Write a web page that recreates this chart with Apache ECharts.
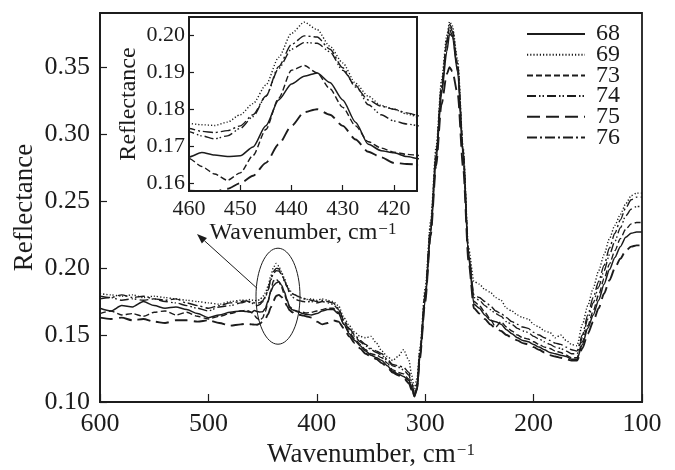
<!DOCTYPE html>
<html><head><meta charset="utf-8">
<script src="https://cdn.jsdelivr.net/npm/echarts@6/dist/echarts.min.js"></script>
<style>html,body{margin:0;padding:0;background:#fff}#c{width:675px;height:470px}</style>
</head><body><div id="c"></div>
<script>
// Wavenumber grid (cm^-1), shared by all series
const wavenumber = [
  600,590,580,570,560,550,540,530,520,510,500,490,480,470,
  465,462.5,460,457.5,455,452.5,450,447.5,445,442.5,440,437.5,435,432.5,430,427.5,425,422.5,420,417.5,415,412.5,410,
  405,400,395,390,385,380,375,370,365,360,355,350,345,340,335,330,325,320,315,312.5,310,307.5,
  305,300,295,290,285,280,277.5,
  275,270,265,260,255,250,245,240,235,230,225,220,215,210,205,200,195,190,185,180,175,170,165,160,155,150,145,140,135,130,125,120,115,110,105,100
];
const r68 = [
  .170,.168,.172,.171,.175,.172,.170,.171,.169,.166,.163,.165,.167,.168,
  .1675,.1672,.1671,.1683,.1676,.1672,.1674,.1698,.1755,.1825,.1868,.1889,.1898,.1872,.1825,.1765,.1705,.1688,.1682,.1672,.1666,.166,.1655,
  .165,.166,.168,.169,.169,.166,.158,.151,.146,.142,.138,.135,.133,.131,.127,.123,.121,.119,.116,.110,.104,.109,
  .133,.176,.226,.280,.330,.362,.375,
  .373,.346,.284,.208,.173,.170,.165,.161,.160,.158,.154,.151,.148,.146,.145,.143,.141,.139,.137,.136,.135,.134,.132,.132,.143,.155,.165,.176,.188,.199,.208,.216,.223,.226,.227,.227
];
const r69 = [
  .181,.180,.179,.180,.178,.179,.178,.177,.176,.175,.174,.173,.175,.176,
  .176,.1765,.1761,.1758,.1756,.1765,.1785,.1815,.1865,.194,.2005,.2035,.2015,.197,.1925,.187,.1835,.181,.180,.1787,.1778,.177,.1765,
  .177,.176,.177,.176,.175,.172,.163,.157,.152,.149,.148,.149,.144,.138,.134,.131,.134,.139,.131,.120,.110,.118,
  .140,.185,.235,.290,.340,.374,.384,
  .381,.355,.290,.215,.190,.188,.184,.182,.178,.176,.170,.168,.165,.163,.162,.158,.156,.153,.152,.148,.150,.146,.143,.142,.158,.172,.185,.198,.210,.222,.232,.240,.248,.254,.256,.256
];
const r73 = [
  .166,.168,.165,.166,.164,.167,.168,.165,.167,.164,.162,.164,.166,.168,
  .1685,.1678,.1667,.1645,.1625,.1608,.1628,.1675,.1745,.183,.1905,.1918,.1898,.1855,.1805,.1755,.1712,.1695,.1684,.1678,.1675,.167,.1665,
  .167,.168,.169,.170,.170,.167,.158,.152,.147,.143,.139,.136,.135,.133,.129,.124,.122,.121,.117,.111,.104,.110,
  .134,.178,.228,.282,.332,.368,.382,
  .379,.352,.288,.210,.175,.172,.167,.162,.156,.160,.156,.153,.150,.148,.147,.145,.143,.141,.140,.138,.137,.135,.133,.133,.145,.157,.168,.180,.192,.203,.213,.222,.229,.233,.234,.234
];
const r74 = [
  .177,.178,.176,.177,.176,.177,.175,.174,.172,.170,.168,.171,.172,.174,
  .175,.1745,.1739,.1728,.172,.1728,.1748,.178,.1835,.191,.1962,.198,.1978,.1955,.1905,.1865,.1812,.1785,.1768,.176,.1755,.175,.1748,
  .175,.174,.175,.174,.173,.169,.160,.154,.149,.145,.142,.139,.137,.135,.131,.127,.126,.124,.120,.113,.105,.112,
  .136,.180,.230,.284,.334,.370,.381,
  .377,.350,.287,.212,.178,.176,.172,.169,.166,.164,.160,.158,.155,.153,.152,.149,.147,.145,.143,.141,.140,.138,.136,.136,.148,.162,.174,.186,.198,.210,.220,.230,.239,.244,.246,.246
];
const r75 = [
  .163,.162,.163,.161,.162,.160,.159,.161,.161,.160,.161,.159,.157,.158,
  .1585,.1582,.158,.1578,.1577,.1585,.160,.162,.1655,.1705,.1755,.1792,.180,.1785,.1755,.1718,.1685,.167,.1655,.1652,.165,.1645,.164,
  .163,.160,.158,.159,.161,.160,.155,.149,.144,.140,.136,.134,.132,.129,.126,.122,.120,.118,.114,.109,.105,.110,
  .132,.175,.224,.276,.322,.345,.350,
  .347,.330,.275,.205,.170,.166,.162,.158,.155,.153,.150,.148,.146,.144,.143,.141,.139,.137,.135,.134,.133,.132,.131,.131,.140,.151,.160,.170,.181,.191,.200,.207,.213,.216,.217,.217
];
const r76 = [
  .179,.178,.180,.178,.179,.177,.176,.177,.174,.172,.170,.172,.174,.175,
  .1755,.175,.1748,.174,.1737,.1742,.1755,.1785,.1835,.1915,.1975,.1998,.1995,.1962,.1912,.186,.1825,.1808,.180,.179,.1782,.1775,.177,
  .176,.175,.176,.175,.174,.170,.161,.155,.150,.146,.143,.140,.138,.136,.132,.128,.127,.126,.122,.115,.106,.114,
  .138,.182,.232,.286,.336,.369,.378,
  .374,.348,.285,.210,.180,.178,.175,.172,.168,.166,.163,.160,.158,.156,.155,.152,.150,.148,.146,.144,.143,.141,.139,.138,.150,.165,.178,.190,.202,.215,.226,.236,.245,.251,.253,.253
];
const seriesNames = ['68','69','73','74','75','76'];
const mainYTicks = [0.10,0.15,0.20,0.25,0.30,0.35];
const insetXTicks = [460,450,440,430,420];
const insetYTicks = [0.16,0.17,0.18,0.19,0.20];

const FONT = 'Liberation Serif';
const INK = '#1c1c1c';
const seriesData = [r68, r69, r73, r74, r75, r76];
const dashStyles = ['solid', [1.2,2], [6,3], [9,3,1.5,2,1.5,3], [13,6], [10,3,2,3]];
const widths = [1.5, 1.4, 1.4, 1.4, 1.9, 1.4];

function pairs(arr){ return wavenumber.map((w,i)=>[w,arr[i]]); }

const series = [];
seriesNames.forEach((n,i)=>{
  const base = {
    name: n, type: 'line', symbol: 'none', smooth: 0.25, smoothMonotone: 'x',
    data: pairs(seriesData[i]),
    lineStyle: {color: INK, width: widths[i], type: dashStyles[i]},
    itemStyle: {color: INK},
    emphasis: {disabled: true}, silent: true
  };
  series.push(Object.assign({}, base, {xAxisIndex: 0, yAxisIndex: 0}));
  series.push(Object.assign({}, base, {xAxisIndex: 1, yAxisIndex: 1}));
});

const nameRich = {sup: {fontFamily: FONT, fontSize: 17, color: INK, verticalAlign: 'top', lineHeight: 16, padding: [0,0,0,1]}};

const chart = echarts.init(document.getElementById('c'), null, {renderer: 'canvas'});
chart.setOption({
  animation: false,
  backgroundColor: '#fff',
  textStyle: {fontFamily: FONT, color: INK},
  legend: {
    data: seriesNames, orient: 'vertical', left: 521, top: 17,
    itemWidth: 58, itemHeight: 12, itemGap: -3.3, selectedMode: false,
    itemStyle: {opacity: 0, borderWidth: 0},
    textStyle: {fontFamily: FONT, fontSize: 24, color: INK, padding: [0,0,0,6]}
  },
  grid: [
    {left: 100, right: 33, top: 13, bottom: 68, show: true, borderColor: INK, borderWidth: 1.8, outerBoundsMode: 'none', containLabel: false},
    {left: 189, top: 17, width: 228, height: 174, show: true, backgroundColor: '#fff', borderColor: INK, borderWidth: 2, outerBoundsMode: 'none', containLabel: false}
  ],
  xAxis: [
    {type: 'value', gridIndex: 0, inverse: true, min: 100, max: 600, interval: 100,
     axisLine: {lineStyle: {color: INK, width: 1.8}},
     axisTick: {inside: true, length: 8, lineStyle: {color: INK, width: 1.2}},
     axisLabel: {fontFamily: FONT, fontSize: 26, color: INK, margin: 9},
     splitLine: {show: false},
     name: 'Wavenumber, cm{sup|−1}', nameLocation: 'middle', nameGap: 39,
     nameTextStyle: {fontFamily: FONT, fontSize: 27, color: INK, rich: nameRich}},
    {type: 'value', gridIndex: 1, inverse: true, min: 415.5, max: 460,
     axisLine: {lineStyle: {color: INK, width: 2}},
     axisTick: {inside: true, length: 6, customValues: insetXTicks, lineStyle: {color: INK, width: 1.2}},
     axisLabel: {fontFamily: FONT, fontSize: 22, color: INK, margin: 7, customValues: insetXTicks},
     splitLine: {show: false},
     name: 'Wavenumber, cm{sup|−1}', nameLocation: 'middle', nameGap: 27,
     nameTextStyle: {fontFamily: FONT, fontSize: 24, color: INK, rich: nameRich}}
  ],
  yAxis: [
    {type: 'value', gridIndex: 0, min: 0.10, max: 0.3905,
     axisLine: {lineStyle: {color: INK, width: 1.8}},
     axisTick: {inside: true, length: 7, customValues: mainYTicks, lineStyle: {color: INK, width: 1.2}},
     axisLabel: {fontFamily: FONT, fontSize: 26, color: INK, margin: 10, customValues: mainYTicks,
                 formatter: v => v.toFixed(2)},
     splitLine: {show: false},
     name: 'Reflectance', nameLocation: 'middle', nameGap: 62, nameMoveOverlap: false,
     nameTextStyle: {fontFamily: FONT, fontSize: 27, color: INK}},
    {type: 'value', gridIndex: 1, min: 0.1579, max: 0.2049,
     axisLine: {lineStyle: {color: INK, width: 2}},
     axisTick: {inside: true, length: 5, customValues: insetYTicks, lineStyle: {color: INK, width: 1.2}},
     axisLabel: {fontFamily: FONT, fontSize: 22, color: INK, margin: 4, customValues: insetYTicks,
                 formatter: v => v.toFixed(2)},
     splitLine: {show: false},
     name: 'Reflectance', nameLocation: 'middle', nameGap: 48,
     nameTextStyle: {fontFamily: FONT, fontSize: 24, color: INK}}
  ],
  series: series
});

// Annotation: ellipse around the 437 cm^-1 band and arrow to the inset
const c = chart.convertToPixel({xAxisIndex: 0, yAxisIndex: 0}, [435.8, 0.179]);
const rx = 22, ry = 48;
const sx = c[0] - rx + 1, sy = c[1] - 8;
const ex = 197, ey = 234;
const dx = ex - sx, dy = ey - sy, L = Math.hypot(dx, dy);
const ux = dx / L, uy = dy / L;
const hl = 10, hw = 3.8;
const bx = ex - ux * hl, by = ey - uy * hl;
chart.setOption({
  graphic: [
    {type: 'ellipse', shape: {cx: c[0], cy: c[1], rx: rx, ry: ry}, style: {fill: 'none', stroke: INK, lineWidth: 1}, z: 10, silent: true},
    {type: 'line', shape: {x1: sx, y1: sy, x2: bx, y2: by}, style: {stroke: INK, lineWidth: 1}, z: 10, silent: true},
    {type: 'polygon', shape: {points: [[ex, ey], [bx - uy * hw, by + ux * hw], [bx + uy * hw, by - ux * hw]]}, style: {fill: INK}, z: 10, silent: true}
  ]
});
</script>
</body></html>
